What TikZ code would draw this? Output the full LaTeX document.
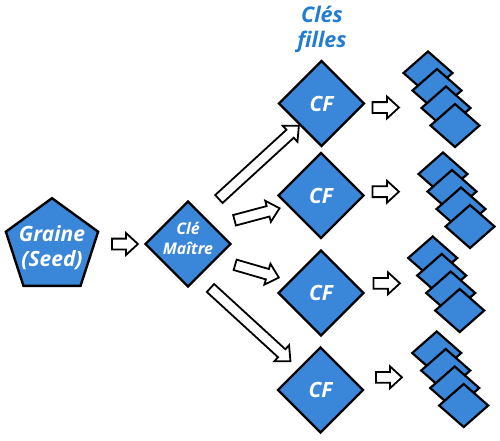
\documentclass[tikz,border=0pt]{standalone}
\usepackage{fontspec}
\setmainfont{Open Sans}
\usetikzlibrary{shapes.geometric,shapes.arrows,calc}
\definecolor{fillblue}{RGB}{58,134,216}
\definecolor{titleblue}{RGB}{34,124,208}
\tikzset{
  bluebox/.style={draw=black, line width=2.4pt, fill=fillblue, text=white,
    font=\bfseries\itshape, inner sep=0pt, line join=miter, align=center},
  bigdiamond/.style={bluebox, diamond, minimum width=86pt, minimum height=86pt,
    font=\fontsize{21}{24}\selectfont\bfseries\itshape},
  seedbox/.style={bluebox, regular polygon, regular polygon sides=5, minimum size=97pt},
  smallbox/.style={draw=black, line width=2.2pt, fill=fillblue, line join=miter},
  hollowarr/.style={single arrow, draw=black, fill=white, line width=1.8pt,
    inner xsep=0pt, inner ysep=4.5pt, single arrow head extend=5.5pt,
    single arrow tip angle=85},
  labeltext/.style={text=white, font=\fontsize{16}{20}\selectfont\bfseries\itshape, align=center},
  seedtext/.style={text=white, font=\fontsize{21}{25}\selectfont\bfseries\itshape, align=center},
  titletext/.style={text=titleblue, font=\fontsize{21.5}{25}\selectfont\bfseries\itshape, align=center}
}
\newcommand\blockarrow[2]{\path let \p1=(#1), \p2=(#2),
  \n1={atan2(\y2-\y1,\x2-\x1)}, \n2={veclen(\x2-\x1,\y2-\y1)} in
  node[hollowarr, minimum height=\n2, rotate=\n1] at ($(#1)!0.5!(#2)$) {};}
\begin{document}
\begin{tikzpicture}[x=1pt,y=-1pt]
\useasboundingbox (0,0) rectangle (500,440);
% main shapes
\node[seedbox] (seed) at (52,246.7) {};
\node[seedtext] (seedlabel) at (52,247.5) {Graine\\(Seed)};
\node[bigdiamond] (m) at (188,244) {};
\node[labeltext] (mtext) at (188,238.5) {Clé\\Maître};
\node[bigdiamond] (cf1) at (321.5,103.5) {CF};
\node[bigdiamond] (cf2) at (321,195.5) {CF};
\node[bigdiamond] (cf3) at (321,293) {CF};
\node[bigdiamond] (cf4) at (320.5,390) {CF};
\node[titletext] (title) at (322,29) {Clés\\filles};
% arrow end points
\coordinate (s0) at (109,244);   \coordinate (s1) at (135,244);
\coordinate (a1t) at (216.7,201); \coordinate (a1h) at (296.7,127.7);
\coordinate (a2t) at (231.7,221); \coordinate (a2h) at (276.7,209);
\coordinate (a3t) at (232.3,264); \coordinate (a3h) at (276,276.7);
\coordinate (a4t) at (208.3,286); \coordinate (a4h) at (288.3,359.3);
\coordinate (c1t) at (369.5,107.5); \coordinate (c1h) at (396,107.5);
\coordinate (c2t) at (369.5,191.7); \coordinate (c2h) at (396,191.7);
\coordinate (c3t) at (370.5,283.3); \coordinate (c3h) at (397,283.3);
\coordinate (c4t) at (373,377.3); \coordinate (c4h) at (399,377.3);
\blockarrow{s0}{s1}
\blockarrow{a1t}{a1h}
\blockarrow{a2t}{a2h}
\blockarrow{a3t}{a3h}
\blockarrow{a4t}{a4h}
\blockarrow{c1t}{c1h}
\blockarrow{c2t}{c2h}
\blockarrow{c3t}{c3h}
\blockarrow{c4t}{c4h}
% stacks of small keys
\foreach \sx/\sy in {428/73, 443/174, 432.7/258, 436.7/353}{
  \foreach \k in {0,...,3}{
    \draw[smallbox, shift={({\sx+9*\k},{\sy+17.5*\k})}]
      (0,-21.5) -- (24.5,0) -- (0,21.5) -- (-24.5,0) -- cycle;
  }
}
\end{tikzpicture}
\end{document}
